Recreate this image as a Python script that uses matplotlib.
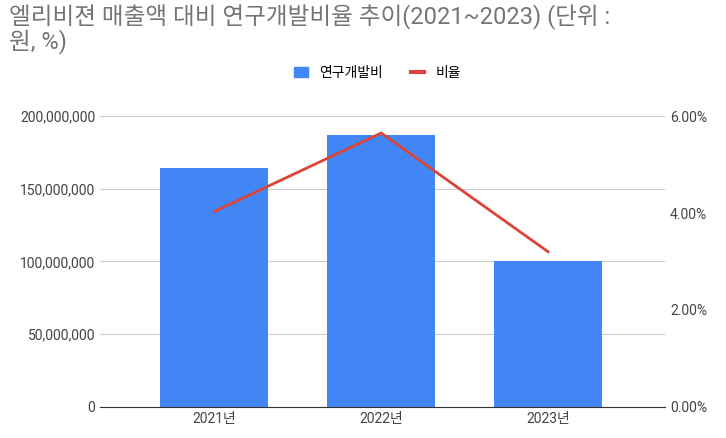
import matplotlib.pyplot as plt
from matplotlib.ticker import FuncFormatter
from matplotlib.lines import Line2D
from matplotlib.patches import Patch

plt.rcParams['font.family'] = ['Roboto', 'Noto Sans CJK KR', 'DejaVu Sans']

years = ['2021년', '2022년', '2023년']
rnd_cost = [164000000, 187000000, 100000000]
ratio = [4.03, 5.65, 3.2]

fig = plt.figure(figsize=(7.26, 4.38), dpi=100)
ax = fig.add_axes([0.138, 0.071, 0.778, 0.664])
x = range(len(years))
ax.bar(x, rnd_cost, width=0.65, color='#4285f4', zorder=2)
ax.set_ylim(0, 200000000)
ax.set_xlim(-0.683, 2.70)
ax.set_yticks([0, 50000000, 100000000, 150000000, 200000000])
ax.yaxis.set_major_formatter(FuncFormatter(lambda v, p: f'{int(v):,}'))
ax.set_xticks(list(x))
ax.set_xticklabels(years)
ax.grid(axis='y', color='#cccccc', linewidth=0.8, zorder=0)
for s in ['top', 'right', 'left']:
    ax.spines[s].set_visible(False)
ax.spines['bottom'].set_color('#333333')
ax.tick_params(length=0, labelsize=10, colors='#444444')

ax2 = ax.twinx()
ax2.plot(list(x), ratio, color='#db4437', linewidth=2)
ax2.set_ylim(0, 6)
ax2.set_yticks([0, 2, 4, 6])
ax2.yaxis.set_major_formatter(FuncFormatter(lambda v, p: f'{v:.2f}%'))
for s in ['top', 'right', 'left', 'bottom']:
    ax2.spines[s].set_visible(False)
ax2.tick_params(length=0, labelsize=10, colors='#444444')

fig.text(0.012, 0.99, '엘리비젼 매출액 대비 연구개발비율 추이(2021~2023) (단위 :\n원, %)',
         ha='left', va='top', fontsize=17, color='#757575', linespacing=0.95)
handles = [Patch(color='#4285f4'), Line2D([], [], color='#db4437', linewidth=3)]
fig.legend(handles, ['연구개발비', '비율'], loc='center', bbox_to_anchor=(0.52, 0.833),
           ncol=2, frameon=False, fontsize=10, handlelength=1.0, columnspacing=2)
fig.savefig('out.png')
